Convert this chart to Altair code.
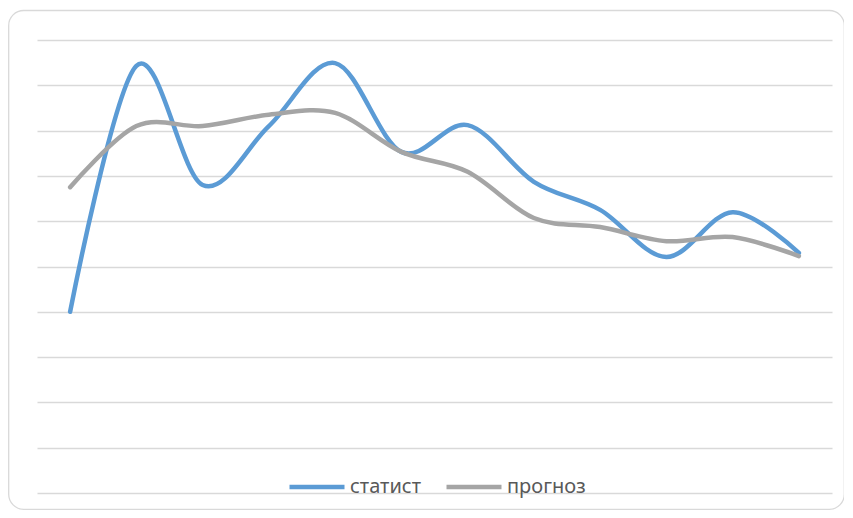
import altair as alt
import pandas as pd

idx = list(range(1, 13))
stat = [4.0, 9.43, 6.8, 8.1, 9.49, 7.53, 8.12, 6.87, 6.25, 5.21, 6.2, 5.3]
prog = [6.75, 8.1, 8.1, 8.35, 8.39, 7.53, 7.09, 6.07, 5.87, 5.56, 5.65, 5.23]
series = ["статист", "прогноз"]
colors = ["#5B9BD5", "#A5A5A5"]
grid_vals = list(range(0, 11))

rows = []
for i, v in zip(idx, stat):
    rows.append({"i": i, "v": v, "s": series[0], "o": 0})
for i, v in zip(idx, prog):
    rows.append({"i": i, "v": v, "s": series[1], "o": 1})
df = pd.DataFrame(rows)

W, H = 795, 453

border = alt.Chart(pd.DataFrame({"a": [0]})).mark_rect(
    fill="transparent", stroke="#D9D9D9", strokeWidth=1.3, cornerRadius=15
).encode(
    x=alt.value(-28.3), x2=alt.value(807.3), y=alt.value(-29.5), y2=alt.value(469.3)
)

lines = alt.Chart(df).mark_line(
    interpolate="cardinal", strokeWidth=4.5, strokeCap="round", strokeJoin="round"
).encode(
    x=alt.X("i:Q", scale=alt.Scale(domain=[0.5, 12.5], nice=False, zero=False), axis=None),
    y=alt.Y("v:Q", scale=alt.Scale(domain=[0, 10], nice=False),
            axis=alt.Axis(values=grid_vals, labels=False, ticks=False, domain=False,
                          title=None, grid=True, gridColor="#D9D9D9", gridWidth=1.3)),
    color=alt.Color("s:N", scale=alt.Scale(domain=series, range=colors),
                    legend=alt.Legend(orient="none", legendX=250, legendY=417,
                                      direction="horizontal", title=None,
                                      symbolType="stroke", symbolSize=3025,
                                      symbolStrokeWidth=4.5, labelFontSize=20,
                                      labelFont="Noto Sans", labelColor="#595959",
                                      labelOffset=3, columnPadding=16)),
    order=alt.Order("o:Q"),
    detail="s:N",
)

chart = alt.layer(border, lines).properties(
    width=W, height=H,
    padding={"left": 29, "top": 32, "right": 12, "bottom": 17},
    autosize=alt.AutoSizeParams(type="none"),
).configure_view(stroke=None)

chart.save("out.html", embed_options={"renderer": "svg", "actions": False})
